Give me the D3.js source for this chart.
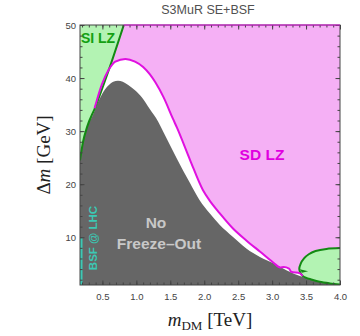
<!DOCTYPE html>
<html lang="en">
<head>
<meta charset="UTF-8">
<title>S3MuR SE+BSF</title>
<script src="https://d3js.org/d3.v7.min.js"></script>
<style>
    body { margin: 0; background: #fff; font-family: "Liberation Sans", Arial, sans-serif; }
    .tick-label { font-size: 9.5px; fill: #444; }
</style>
</head>
<body>
<div id="chart"></div>
<script>
// Boundaries, [mDM (TeV), delta m (GeV)]
const siLzEdge = [[0.17,24.5],[0.215,28],[0.275,30.8],[0.395,34.5],[0.58,41],[0.815,50]];
const noFreezeOutEdge = [[0.17,24.5],[0.215,28],[0.275,30.8],[0.36,33],[0.43,35.3],[0.5,37.1],[0.58,38.5],[0.66,39.3],[0.73,39.5],[0.8,39.3],[0.88,38.7],[0.98,37.7],[1.08,36.4],[1.2,34.1],[1.32,31.8],[1.4,29.8],[1.59,25],[1.79,20.2],[1.93,17],[2.08,14.5],[2.23,12.3],[2.42,10.1],[2.62,7.9],[2.82,6.3],[3.02,5.1],[3.21,3.8],[3.45,2.5],[3.7,1.6],[4.0,1.1]];
const sdLzEdge = [[0.385,34.3],[0.49,38.7],[0.59,41.5],[0.69,43.1],[0.84,43.6],[0.98,43.1],[1.1,42.1],[1.2,40.7],[1.28,39.2],[1.4,36.4],[1.54,32.3],[1.6,30.6],[1.79,24.6],[1.98,18.9],[2.08,16.9],[2.23,14.5],[2.42,11.7],[2.62,9.4],[2.82,7.3],[3.02,5.2],[3.12,4.3],[3.17,4.4],[3.25,4.1],[3.28,3.5],[3.41,3.2],[3.45,2.7]];
const siLzIsland = [[4.0,7.95],[3.8,7.8],[3.64,7.4],[3.54,6.8],[3.47,6.0],[3.42,5.0],[3.40,4.0],[3.42,3.2],[3.46,2.6],[3.59,2.0],[3.7,1.6],[3.85,1.3],[4.0,1.1]];
const islandNotch = [[3.41,3.95],[3.53,3.6],[3.44,3.3]];
const bsfLhcRange = [1, 10];

const xMajor = [0.5, 1.0, 1.5, 2.0, 2.5, 3.0, 3.5, 4.0];
const xMinor = d3.range(2, 41).map(i => i / 10);
const yMajor = [10, 20, 30, 40, 50];
const yMinor = d3.range(2, 51, 2);

const W = 360, H = 336;
const pLeft = 80, pRight = 340, pTop = 25, pBottom = 285;

const x = d3.scaleLinear().domain([0.17, 4.0]).range([pLeft, pRight]);
const y = d3.scaleLinear().domain([1, 50]).range([pBottom, pTop]);

const svg = d3.select("#chart").append("svg")
    .attr("width", W).attr("height", H);

svg.append("defs").append("clipPath").attr("id", "plot")
    .append("rect").attr("x", pLeft).attr("y", pTop)
    .attr("width", pRight - pLeft).attr("height", pBottom - pTop);

const g = svg.append("g").attr("clip-path", "url(#plot)");

// SD LZ excluded (pink background)
g.append("rect").attr("x", pLeft).attr("y", pTop)
    .attr("width", pRight - pLeft).attr("height", pBottom - pTop)
    .attr("fill", "#f5b0f5");

// allowed region below SD line (white)
const under = d3.area().x(d => x(d[0])).y0(y(1)).y1(d => y(d[1])).curve(d3.curveMonotoneX);
g.append("path").datum(sdLzEdge).attr("d", under).attr("fill", "#fff");

// no freeze-out (gray)
g.append("path").datum(noFreezeOutEdge).attr("d", under).attr("fill", "#666666");

// SI LZ top-left
const siLine = d3.line().x(d => x(d[0])).y(d => y(d[1])).curve(d3.curveMonotoneX);
g.append("path")
    .attr("d", siLine(siLzEdge) + `L${x(0.17)},${y(50)}Z`)
    .attr("fill", "#b3f3b3");
g.append("path").datum(siLzEdge).attr("d", siLine)
    .attr("fill", "none").attr("stroke", "#138a13").attr("stroke-width", 2);

// SI LZ island bottom-right
const islandLine = d3.line().x(d => x(d[0])).y(d => y(d[1])).curve(d3.curveCatmullRom);
g.append("path").datum(siLzIsland).attr("d", d => islandLine(d) + "Z")
    .attr("fill", "#b3f3b3");
g.append("path").datum(siLzIsland).attr("d", islandLine)
    .attr("fill", "none").attr("stroke", "#138a13").attr("stroke-width", 2);
g.append("path").datum(islandNotch)
    .attr("d", d => d3.line().x(p => x(p[0])).y(p => y(p[1]))(d) + "Z")
    .attr("fill", "#138a13");

// SD LZ line
g.append("path").datum(sdLzEdge)
    .attr("d", d3.line().x(d => x(d[0])).y(d => y(d[1])).curve(d3.curveMonotoneX))
    .attr("fill", "none").attr("stroke", "#e010e0").attr("stroke-width", 2);

// BSF @ LHC strip
g.append("rect").attr("x", pLeft).attr("y", y(bsfLhcRange[1]))
    .attr("width", 2.5).attr("height", y(bsfLhcRange[0]) - y(bsfLhcRange[1]))
    .attr("fill", "#3cc8b4");

// region labels
const lab = (tx, ty, txt, size, color, rot) => svg.append("text")
    .attr("transform", `translate(${tx},${ty})` + (rot ? ` rotate(${rot})` : ""))
    .attr("text-anchor", "middle").attr("dy", "0.35em")
    .style("font-size", size + "px").style("font-weight", "bold")
    .attr("fill", color).text(txt);
lab(98, 38, "SI LZ", 14, "#12a012");
lab(262, 155, "SD LZ", 15.5, "#e000e0");
lab(156, 223, "No", 15.5, "#c8c8c8");
lab(159, 244, "Freeze\u2013Out", 15.5, "#c8c8c8");
lab(93, 238, "BSF @ LHC", 11.5, "#3cc8b4", -90);

// axes (ticks inward on all sides)
const axCol = "#444";
function styleAxis(sel) {
    sel.select(".domain").remove();
    sel.selectAll(".tick line").attr("stroke", axCol);
}
svg.append("g").attr("transform", `translate(0,${pBottom})`)
    .call(d3.axisBottom(x).tickValues(xMinor).tickSize(-2.5).tickFormat(""))
    .call(styleAxis);
svg.append("g").attr("transform", `translate(0,${pBottom})`)
    .call(d3.axisBottom(x).tickValues(xMajor).tickSize(-4.5).tickPadding(8).tickFormat(d3.format(".1f")))
    .call(styleAxis)
    .selectAll("text").attr("class", "tick-label");
svg.append("g").attr("transform", `translate(0,${pTop})`)
    .call(d3.axisTop(x).tickValues(xMinor).tickSize(-2.5).tickFormat(""))
    .call(styleAxis);
svg.append("g").attr("transform", `translate(0,${pTop})`)
    .call(d3.axisTop(x).tickValues(xMajor).tickSize(-4.5).tickFormat(""))
    .call(styleAxis);
svg.append("g").attr("transform", `translate(${pLeft},0)`)
    .call(d3.axisLeft(y).tickValues(yMinor).tickSize(-2.5).tickFormat(""))
    .call(styleAxis);
svg.append("g").attr("transform", `translate(${pLeft},0)`)
    .call(d3.axisLeft(y).tickValues(yMajor).tickSize(-4.5).tickPadding(4).tickFormat(d3.format("d")))
    .call(styleAxis)
    .selectAll("text").attr("class", "tick-label");
svg.append("g").attr("transform", `translate(${pRight},0)`)
    .call(d3.axisRight(y).tickValues(yMinor).tickSize(-2.5).tickFormat(""))
    .call(styleAxis);
svg.append("g").attr("transform", `translate(${pRight},0)`)
    .call(d3.axisRight(y).tickValues(yMajor).tickSize(-4.5).tickFormat(""))
    .call(styleAxis);

// frame
svg.append("rect").attr("x", pLeft).attr("y", pTop)
    .attr("width", pRight - pLeft).attr("height", pBottom - pTop)
    .attr("fill", "none").attr("stroke", axCol).attr("stroke-width", 1);
svg.append("line")
    .attr("x1", x(0.815)).attr("x2", pRight).attr("y1", pTop).attr("y2", pTop)
    .attr("stroke", "#e010e0").attr("stroke-width", 1.2);

// title and axis labels
svg.append("text").attr("x", 208).attr("y", 14).attr("text-anchor", "middle")
    .style("font-size", "12.5px").attr("fill", "#505050").text("S3MuR SE+BSF");

const serif = "'Liberation Serif', 'DejaVu Serif', serif";
const xl = svg.append("text").attr("x", 210).attr("y", 326).attr("text-anchor", "middle")
    .style("font-family", serif).style("font-size", "19px").attr("fill", "#222");
xl.append("tspan").style("font-style", "italic").text("m");
xl.append("tspan").attr("dy", 4).style("font-size", "13px").text("DM");
xl.append("tspan").attr("dy", -4).text(" [TeV]");

const yl = svg.append("text").attr("transform", "translate(50,155) rotate(-90)")
    .attr("text-anchor", "middle")
    .style("font-family", serif).style("font-size", "19px").attr("fill", "#222");
yl.append("tspan").text("\u0394");
yl.append("tspan").style("font-style", "italic").text("m");
yl.append("tspan").text(" [GeV]");
</script>
</body>
</html>
